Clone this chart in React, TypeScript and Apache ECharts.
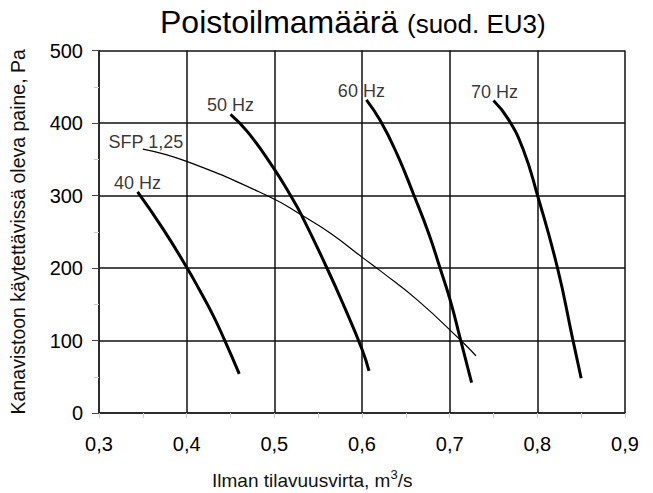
import React, { useEffect, useRef } from "react";
import * as echarts from "echarts";

const xTicks = [0.3, 0.4, 0.5, 0.6, 0.7, 0.8, 0.9];
const yTicks = [0, 100, 200, 300, 400, 500];

const hz40: [number, number][] = [[0.344, 305], [0.373, 254], [0.4, 201], [0.415, 169], [0.43, 135], [0.442, 104], [0.46, 54]];
const hz50: [number, number][] = [[0.45, 412], [0.47, 387], [0.499, 338], [0.518, 301], [0.531, 273], [0.56, 200], [0.58, 146], [0.6, 88], [0.608, 58]];
const hz60: [number, number][] = [[0.605, 432], [0.621, 403], [0.64, 357], [0.659, 301], [0.676, 248], [0.689, 200], [0.701, 154], [0.712, 103], [0.725, 42]];
const hz70: [number, number][] = [[0.75, 431], [0.767, 405], [0.784, 363], [0.8, 301], [0.823, 200], [0.84, 104], [0.85, 48]];
const sfp: [number, number][] = [[0.35, 364], [0.4, 347], [0.495, 298], [0.531, 273], [0.564, 248], [0.6, 215], [0.621, 196], [0.663, 156], [0.712, 101], [0.73, 79]];

const curveNames = ["40 Hz", "50 Hz", "60 Hz", "70 Hz", "SFP 1,25"];
const curves = [hz40, hz50, hz60, hz70, sfp];

const FONT = "Liberation Sans, Arial, sans-serif";

export default function App() {
  const ref = useRef<HTMLDivElement>(null);
  useEffect(() => {
    if (!ref.current) return;
    const chart = echarts.init(ref.current, undefined, { renderer: "svg" });
    const labelOffsets: [number, number][] = [[0, 0], [0, 0], [-5, 0], [1, 0], [3, 2]];
    const lineSeries = curves.map((data, i) => ({
      type: "line",
      name: curveNames[i],
      smooth: 0.5,
      symbol: "none",
      lineStyle: { color: "#000", width: i === 4 ? 1.2 : 3 },
      data,
      z: 3,
    }));
    const labelSeries = {
      type: "scatter",
      symbolSize: 0,
      silent: true,
      z: 4,
      data: curves.map((c, i) => ({
        value: c[0],
        name: curveNames[i],
        label: {
          show: true,
          formatter: curveNames[i],
          position: "top",
          distance: 0,
          offset: labelOffsets[i],
          color: "#000",
          fontSize: 18,
          fontFamily: FONT,
        },
      })),
    };
    chart.setOption({
      animation: false,
      grid: { left: 99, right: 28, top: 50.5, bottom: 80, containLabel: false },
      graphic: [
        {
          type: "text",
          x: 160,
          y: 22,
          style: { text: "Poistoilmamäärä", fontSize: 32, fontFamily: FONT, fill: "#000", verticalAlign: "middle" },
        },
        {
          type: "text",
          x: 407,
          y: 24,
          style: { text: "(suod. EU3)", fontSize: 26, fontFamily: FONT, fill: "#000", verticalAlign: "middle" },
        },
        {
          type: "text",
          x: 212,
          y: 479,
          style: {
            text: "{a|Ilman tilavuusvirta, m}{s|3}{a|/s}",
            verticalAlign: "middle",
            rich: {
              a: { fontSize: 19, fontFamily: FONT, fill: "#111", verticalAlign: "bottom", lineHeight: 22 },
              s: { fontSize: 13, fontFamily: FONT, fill: "#111", verticalAlign: "top", lineHeight: 14, padding: [0, 0, 9, 0] },
            },
          },
        },
      ],
      xAxis: {
        type: "value",
        min: xTicks[0],
        max: xTicks[xTicks.length - 1],
        interval: 0.1,
        axisLine: { show: true, lineStyle: { color: "#222", width: 1.5 } },
        axisTick: { show: true, length: 5, lineStyle: { color: "#ccc" } },
        minorTick: { show: true, splitNumber: 2, length: 5, lineStyle: { color: "#ccc" } },
        splitLine: { show: true, lineStyle: { color: "#111", width: 1.5 } },
        axisLabel: {
          formatter: (v: number) => v.toFixed(1).replace(".", ","),
          fontSize: 20,
          fontFamily: FONT,
          color: "#000",
          margin: 21,
          showMinLabel: true,
          showMaxLabel: true,
        },
      },
      yAxis: {
        type: "value",
        min: yTicks[0],
        max: yTicks[yTicks.length - 1],
        interval: 100,
        name: "Kanavistoon käytettävissä oleva paine, Pa",
        nameLocation: "middle",
        nameGap: 71,
        nameTextStyle: { fontSize: 19.5, fontFamily: FONT, color: "#111" },
        axisLine: { show: true, lineStyle: { color: "#222", width: 1.5 } },
        axisTick: { show: true, length: 7, lineStyle: { color: "#444" } },
        minorTick: { show: true, splitNumber: 2, length: 5, lineStyle: { color: "#ccc" } },
        splitLine: { show: true, lineStyle: { color: "#111", width: 1.5 } },
        axisLabel: { fontSize: 20, fontFamily: FONT, color: "#000", margin: 16 },
      },
      series: [...lineSeries, labelSeries],
    });
    return () => chart.dispose();
  }, []);
  return <div ref={ref} style={{ width: 653, height: 493, position: "absolute", left: 0, top: 0 }} />;
}
